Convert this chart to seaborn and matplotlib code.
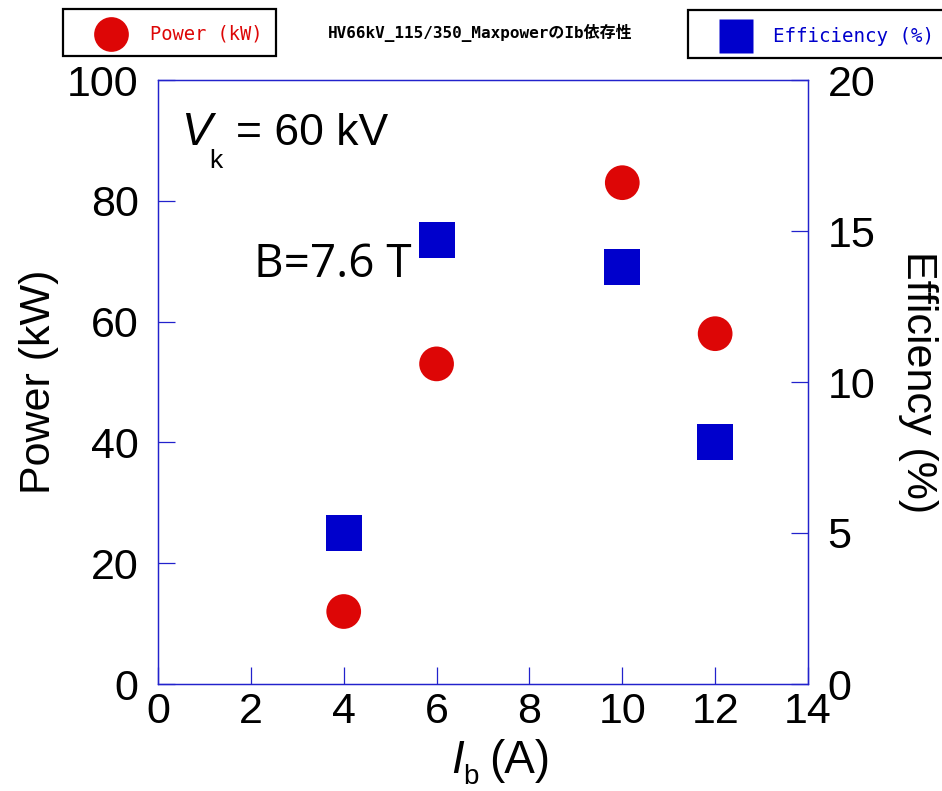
import matplotlib
matplotlib.use("Agg")
import matplotlib.pyplot as plt
from matplotlib.lines import Line2D
from matplotlib.patches import Rectangle
import seaborn as sns
import pandas as pd

# Beam current scan at Vk = 60 kV, B = 7.6 T
beam_current = [4, 6, 10, 12]            # Ib (A)
power_kw = [12, 53, 83, 58]              # output power (kW)
efficiency_pct = [5.0, 14.7, 13.8, 8.0]  # efficiency (%)

x_ticks = [0, 2, 4, 6, 8, 10, 12, 14]
power_ticks = [0, 20, 40, 60, 80, 100]
eff_ticks = [0, 5, 10, 15, 20]

title_text = "HV66kV_115/350_MaxpowerのIb依存性"
power_key = "Power (kW)"
eff_key = "Efficiency (%)"

RED = "#DD0606"
BLUE = "#0000CC"
SPINE = "#2222CC"

sns.set_theme(style="white")
plt.rcParams["font.family"] = ["Liberation Sans", "DejaVu Sans"]
plt.rcParams["text.color"] = "black"
plt.rcParams["axes.labelcolor"] = "black"

df = pd.DataFrame({"Ib": beam_current, "power": power_kw, "eff": efficiency_pct})

W, H = 942, 791


def fx(px):
    return px / W


def fy(py):
    return 1 - py / H


fig = plt.figure(figsize=(W / 100, H / 100), dpi=100)
ax = fig.add_axes([fx(158), fy(684), 650 / W, 604 / H])
ax2 = ax.twinx()

sns.scatterplot(data=df, x="Ib", y="power", ax=ax, marker="o", s=25 ** 2,
                color=RED, edgecolor="none", linewidth=0, zorder=3)
sns.scatterplot(data=df, x="Ib", y="eff", ax=ax2, marker="s", s=26 ** 2,
                color=BLUE, edgecolor="none", linewidth=0, zorder=3)

ax.set_xlim(0, 14)
ax.set_ylim(0, 100)
ax2.set_ylim(0, 20)
ax.set_xticks(x_ticks)
ax.set_yticks(power_ticks)
ax2.set_yticks(eff_ticks)

tick_fs = 31
for a in (ax, ax2):
    for s in a.spines.values():
        s.set_color(SPINE)
        s.set_linewidth(0.9)
    a.tick_params(direction="in", length=12, width=0.9, color=SPINE,
                  labelsize=tick_fs, labelcolor="black", pad=6)
    a.grid(False)
ax.tick_params(axis="y", right=False, left=True, pad=14)
ax.tick_params(axis="x", top=False, bottom=True)
ax2.tick_params(axis="y", right=True, left=False, pad=14)

ax.set_xlabel("")
ax.set_ylabel("Power (kW)", fontsize=31, labelpad=6)
ax2.set_ylabel("Efficiency (%)", fontsize=31, rotation=270, labelpad=45)

# x-axis label: italic I with a dropped subscript b
fig.text(fx(451), fy(773), "I", fontsize=33, style="italic", va="baseline", ha="left")
fig.text(fx(463), fy(784), "b", fontsize=20, va="baseline", ha="left")
fig.text(fx(489), fy(773), "(A)", fontsize=33, va="baseline", ha="left")

# Operating conditions
fig.text(fx(181), fy(145), "V", fontsize=33, style="italic", va="baseline", ha="left")
fig.text(fx(209), fy(149), "k", fontsize=19, va="top", ha="left")
fig.text(fx(236), fy(145), "= 60 kV", fontsize=32, va="baseline", ha="left")
fig.text(fx(254), fy(277), "B=7.6 T", fontsize=33,
         family=["Open Sans", "DejaVu Sans"], va="baseline", ha="left")

# Title and series keys above the plot
fig.text(fx(480), fy(33), title_text, fontsize=11.5, fontweight="bold",
         family=["DejaVu Sans Mono", "Noto Sans CJK JP"], ha="center", va="center")

fig.add_artist(Rectangle((fx(63), fy(56)), 213 / W, 47 / H, transform=fig.transFigure,
                         facecolor="white", edgecolor="black", linewidth=1.6,
                         clip_on=False))
fig.add_artist(Line2D([fx(110.5)], [fy(34)], marker="o", linestyle="none",
                      markersize=25, markerfacecolor=RED, markeredgecolor="none",
                      transform=fig.transFigure))
fig.text(fx(150), fy(34), power_key, fontsize=13.5, color=RED,
         family="DejaVu Sans Mono", ha="left", va="center")

fig.add_artist(Rectangle((fx(688), fy(58)), 270 / W, 48 / H, transform=fig.transFigure,
                         facecolor="white", edgecolor="black", linewidth=1.6,
                         clip_on=False))
fig.add_artist(Line2D([fx(736)], [fy(36)], marker="s", linestyle="none",
                      markersize=25, markerfacecolor=BLUE, markeredgecolor="none",
                      transform=fig.transFigure))
fig.text(fx(773), fy(36), eff_key, fontsize=13.8, color=BLUE,
         family="DejaVu Sans Mono", ha="left", va="center")

fig.savefig("out.png", dpi=100, facecolor="white")
